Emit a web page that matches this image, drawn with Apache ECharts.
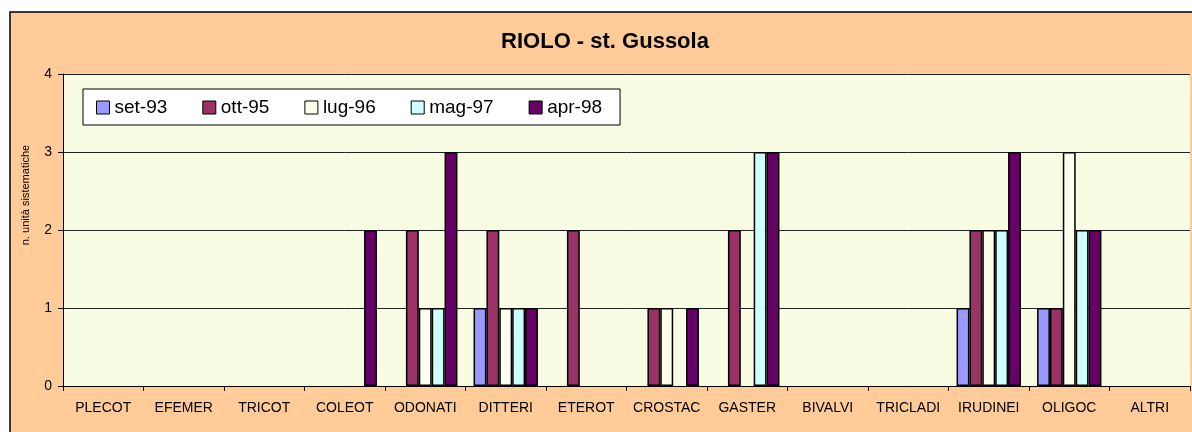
<!DOCTYPE html>
<html>
<head>
<meta charset="utf-8">
<script src="https://cdn.jsdelivr.net/npm/echarts@6/dist/echarts.min.js"></script>
<style>
	html, body { margin: 0; padding: 0; background: #fff; }
	#echart { width: 1192px; height: 432px; }
</style>
</head>
<body>
<div id="echart"></div>
<script>
	// categorie e valori
	var categorie = ['PLECOT', 'EFEMER', 'TRICOT', 'COLEOT', 'ODONATI', 'DITTERI', 'ETEROT', 'CROSTAC', 'GASTER', 'BIVALVI', 'TRICLADI', 'IRUDINEI', 'OLIGOC', 'ALTRI'];
	var campagne = ['set-93', 'ott-95', 'lug-96', 'mag-97', 'apr-98'];
	var set93 = [0, 0, 0, 0, 0, 1, 0, 0, 0, 0, 0, 1, 1, 0];
	var ott95 = [0, 0, 0, 0, 2, 2, 2, 1, 2, 0, 0, 2, 1, 0];
	var lug96 = [0, 0, 0, 0, 1, 1, 0, 1, 0, 0, 0, 2, 3, 0];
	var mag97 = [0, 0, 0, 0, 1, 1, 0, 0, 3, 0, 0, 2, 2, 0];
	var apr98 = [0, 0, 0, 2, 3, 1, 0, 1, 3, 0, 0, 3, 2, 0];
	var yTicks = [0, 1, 2, 3, 4];

	var colori = ['#9999FF', '#993366', '#FCFFEC', '#CCFFFF', '#660066'];
	var valori = [set93, ott95, lug96, mag97, apr98];
	var font = 'Liberation Sans, Arial, sans-serif';

	var myChart = echarts.init(document.getElementById('echart'));
	myChart.setOption({
		animation: false,
		backgroundColor: '#fff',
		title: {
			text: 'RIOLO - st. Gussola',
			left: 605,
			textAlign: 'center',
			top: 31,
			padding: 0,
			textStyle: { fontFamily: font, fontSize: 22, fontWeight: 'bold', color: '#000' }
		},
		graphic: [
			{ // cornice del grafico
				type: 'rect',
				z: -10,
				shape: { x: 10, y: 12, width: 1220, height: 440 },
				style: { fill: '#FFCC99', stroke: '#000', lineWidth: 1.5 }
			},
			{ // titolo asse y
				type: 'text',
				x: 26,
				y: 195,
				rotation: Math.PI / 2,
				style: {
					text: 'n. unità sistematiche',
					font: '11px ' + font,
					fill: '#000',
					align: 'center',
					verticalAlign: 'middle'
				}
			}
		],
		legend: {
			data: campagne,
			left: 83,
			top: 89,
			padding: [9, 18, 8, 13],
			itemGap: 35,
			itemWidth: 13,
			itemHeight: 13,
			icon: 'rect',
			backgroundColor: '#fff',
			borderColor: '#000',
			borderWidth: 1,
			itemStyle: { borderColor: '#000', borderWidth: 1 },
			textStyle: { fontFamily: font, fontSize: 19, color: '#000' }
		},
		grid: {
			left: 63,
			right: 2,
			top: 74,
			bottom: 46,
			show: true,
			backgroundColor: '#F8FCE2',
			borderWidth: 0
		},
		xAxis: {
			type: 'category',
			data: categorie,
			axisLine: { lineStyle: { color: '#000', width: 1 } },
			axisTick: { show: true, length: 5, inside: false, lineStyle: { color: '#000' } },
			axisLabel: { interval: 0, margin: 15, fontFamily: font, fontSize: 14, color: '#000' },
			splitLine: { show: false }
		},
		yAxis: {
			type: 'value',
			min: yTicks[0],
			max: yTicks[yTicks.length - 1],
			interval: 1,
			axisLine: { show: true, lineStyle: { color: '#000', width: 1 } },
			axisTick: { show: true, length: 5, lineStyle: { color: '#000' } },
			axisLabel: { margin: 11, fontFamily: font, fontSize: 14, color: '#000' },
			splitLine: { show: true, lineStyle: { color: '#222', width: 1 } }
		},
		series: campagne.map(function (nome, i) {
			return {
				name: nome,
				type: 'bar',
				// gli zeri non disegnano nessuna barra, come nell'originale
				data: valori[i].map(function (v) { return v === 0 ? '-' : v; }),
				barGap: '0%',
				barCategoryGap: '20%',
				itemStyle: { color: colori[i], borderColor: '#000', borderWidth: 1.5 }
			};
		})
	});
</script>
</body>
</html>
